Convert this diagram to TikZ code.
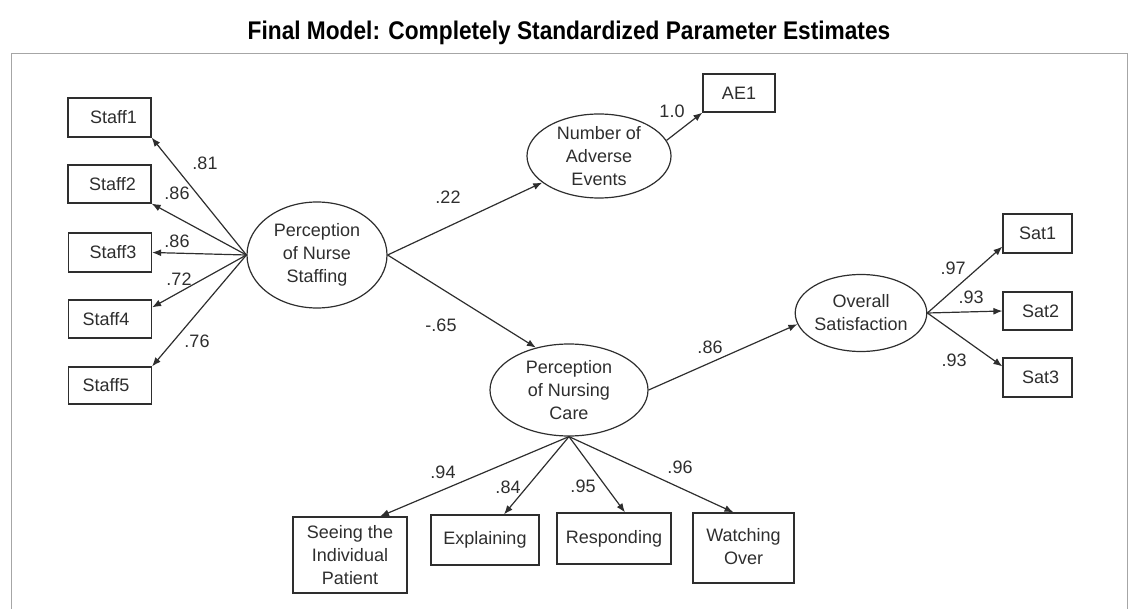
\documentclass[tikz,border=0pt]{standalone}
\usepackage{fontspec}
\setmainfont{Liberation Sans}
\usetikzlibrary{shapes.geometric,arrows.meta}
\definecolor{ink}{HTML}{2E2E2E}
\tikzset{
  obs/.style={draw=ink,line width=0.6pt,rectangle,inner sep=0pt,align=center,
    font=\fontsize{9}{11.5}\selectfont,text=ink},
  lat/.style={draw=ink,line width=0.6pt,ellipse,inner sep=0pt,align=center,
    font=\fontsize{9}{11.5}\selectfont,text=ink},
  lab/.style={inner sep=0pt,font=\fontsize{9}{11}\selectfont,text=ink},
  path/.style={draw=ink,line width=0.6pt,-{Latex[length=4.5pt,width=3.5pt]}},
}
\begin{document}
\begin{tikzpicture}[x=0.5pt,y=-0.5pt]
\useasboundingbox (0,0) rectangle (1129,609);
% frame
\draw[draw=gray!70,line width=0.5pt] (11,609) -- (11,54) -- (1127,54) -- (1127,609);
% title
\node[font=\bfseries\fontsize{11.4}{13}\selectfont,inner sep=0pt] (title) at (569,33)
  {\scalebox{0.995}[1.12]{Final Model: Completely Standardized Parameter Estimates}};
% observed: staff
\node[obs,minimum width=41.5pt,minimum height=19.5pt] (S1) at (109.5,117.5) {\hspace{4pt}Staff1};
\node[obs,minimum width=41.5pt,minimum height=19pt] (S2) at (109.5,184) {\hspace{3pt}Staff2};
\node[obs,minimum width=41.5pt,minimum height=19.5pt] (S3) at (110,252.5) {\hspace{3pt}Staff3};
\node[obs,minimum width=41.5pt,minimum height=19pt] (S4) at (110,319) {Staff4\hspace{4pt}};
\node[obs,minimum width=41.5pt,minimum height=18.5pt] (S5) at (110,385.5) {Staff5\hspace{4pt}};
% latent
\node[lat,minimum width=70pt,minimum height=53pt] (NS) at (317,255) {Perception\\of Nurse\\Staffing};
\node[lat,minimum width=72pt,minimum height=42pt] (AE) at (599,156) {Number of\\Adverse\\Events};
\node[lat,minimum width=79pt,minimum height=46pt] (NC) at (569,390) {Perception\\of Nursing\\Care};
\node[lat,minimum width=62.5pt,minimum height=38.5pt] (OS) at (861,313) {Overall\\Satisfaction};
% other observed
\node[obs,minimum width=36pt,minimum height=19pt] (AE1) at (739,93) {AE1};
\node[obs,minimum width=34.5pt,minimum height=19.5pt] (Sat1) at (1037.5,233.5) {Sat1};
\node[obs,minimum width=34.5pt,minimum height=19pt] (Sat2) at (1037.5,311) {\hspace{3pt}Sat2};
\node[obs,minimum width=34.5pt,minimum height=19.5pt] (Sat3) at (1037.5,377.5) {\hspace{3pt}Sat3};
\node[obs,minimum width=57pt,minimum height=38pt] (B1) at (350,555) {Seeing the\\Individual\\Patient};
\node[obs,minimum width=54pt,minimum height=25pt] (B2) at (485,540) {Explaining};
\node[obs,minimum width=57pt,minimum height=25.5pt] (B3) at (614,538.5) {Responding};
\node[obs,minimum width=50.5pt,minimum height=35pt] (B4) at (743.5,548)
  {\raisebox{2.25pt}{\begin{tabular}{@{}c@{}}Watching\\Over\end{tabular}}};
% paths
\draw[path] (NS.west) -- (S1.south east);
\draw[path] (NS.west) -- (S2.south east);
\draw[path] (NS.west) -- (S3.east);
\draw[path] (NS.west) -- ([yshift=-4pt]S4.north east);
\draw[path] (NS.west) -- (S5.north east);
\draw[path] (NS.east) -- (AE);
\draw[path] (NS.east) -- (NC.128);
\draw[path] (AE.13) -- (AE1.south west);
\draw[path] (NC.east) -- (OS.190);
\draw[path] (OS.east) -- ([yshift=3.5pt]Sat1.south west);
\draw[path] (OS.east) -- (Sat2.west);
\draw[path] (OS.east) -- ([yshift=-4.5pt]Sat3.north west);
\draw[path] (NC.south) -- ([xshift=15pt]B1.north);
\draw[path] (NC.south) -- ([xshift=9.5pt]B2.north);
\draw[path] (NC.south) -- ([xshift=5.5pt]B3.north);
\draw[path] (NC.south) -- ([xshift=-5pt]B4.north);
% labels
\node[lab] (l1) at (205,163) {.81};
\node[lab] (l2) at (177,193) {.86};
\node[lab] (l3) at (177,241) {.86};
\node[lab] (l4) at (179,279) {.72};
\node[lab] (l5) at (197,341) {.76};
\node[lab] (l6) at (448,197) {.22};
\node[lab] (l7) at (441,325) {-.65};
\node[lab] (l8) at (672,111) {1.0};
\node[lab] (l9) at (710,347) {.86};
\node[lab] (l10) at (953,268) {.97};
\node[lab] (l11) at (971,297) {.93};
\node[lab] (l12) at (954,360) {.93};
\node[lab] (l13) at (443,472) {.94};
\node[lab] (l14) at (508,487) {.84};
\node[lab] (l15) at (583,486) {.95};
\node[lab] (l16) at (680,467) {.96};
\end{tikzpicture}
\end{document}
